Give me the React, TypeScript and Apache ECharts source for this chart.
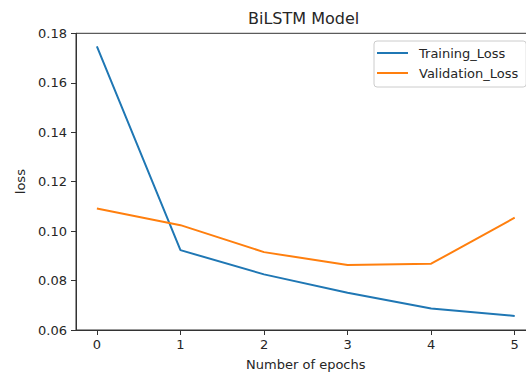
import React, { useEffect, useRef } from "react";
import * as echarts from "echarts";

const epochs = [0, 1, 2, 3, 4, 5];
const trainingLoss = [0.1747, 0.0923, 0.0825, 0.0751, 0.0687, 0.0657];
const validationLoss = [0.1091, 0.1024, 0.0915, 0.0863, 0.0868, 0.1054];
const xTicks = [0, 1, 2, 3, 4, 5];
const yTicks = [0.06, 0.08, 0.1, 0.12, 0.14, 0.16, 0.18];

const FONT = "DejaVu Sans";
const TXT = "#262626";
const AX = "#333333";

export default function App() {
  const ref = useRef<HTMLDivElement>(null);
  useEffect(() => {
    if (!ref.current) return;
    const chart = echarts.init(ref.current, undefined, { renderer: "svg" });
    chart.setOption({
      animation: false,
      backgroundColor: "#ffffff",
      textStyle: { fontFamily: FONT },
      title: {
        text: "BiLSTM Model",
        left: 248,
        top: 10,
        padding: 0,
        textStyle: { fontFamily: FONT, fontSize: 16, fontWeight: "normal", color: TXT },
      },
      legend: {
        orient: "vertical",
        left: 374,
        top: 41,
        padding: [5, 8, 7, 3],
        itemGap: 6,
        itemWidth: 31,
        itemHeight: 2,
        icon: "rect",
        backgroundColor: "rgba(255,255,255,0.8)",
        borderColor: "#cccccc",
        borderWidth: 1,
        borderRadius: 3,
        textStyle: { fontFamily: FONT, fontSize: 13, color: TXT, lineHeight: 14, padding: [0, 0, 0, 6] },
        data: ["Training_Loss", "Validation_Loss"],
      },
      grid: { left: 76, top: 33.3, width: 459.6, height: 297.4, show: true, borderColor: AX, borderWidth: 1, backgroundColor: "transparent" },
      xAxis: {
        type: "value",
        min: -0.25,
        max: 5.25,
        name: "Number of epochs",
        nameLocation: "middle",
        nameGap: 28,
        nameTextStyle: { fontFamily: FONT, fontSize: 13, color: TXT },
        axisLine: { show: true, onZero: false, lineStyle: { color: AX, width: 1 } },
        axisTick: { show: true, customValues: xTicks, length: 5, lineStyle: { color: AX, width: 1 } },
        axisLabel: { customValues: xTicks, margin: 8, fontFamily: FONT, fontSize: 13, color: TXT, formatter: (v: number) => String(v) },
        splitLine: { show: false },
      },
      yAxis: {
        type: "value",
        min: 0.06,
        max: 0.18,
        name: "loss",
        nameLocation: "middle",
        nameGap: 47,
        nameTextStyle: { fontFamily: FONT, fontSize: 13, color: TXT },
        axisLine: { show: true, onZero: false, lineStyle: { color: AX, width: 1 } },
        axisTick: { show: true, customValues: yTicks, length: 5, lineStyle: { color: AX, width: 1 } },
        axisLabel: { customValues: yTicks, margin: 9, fontFamily: FONT, fontSize: 13, color: TXT, formatter: (v: number) => v.toFixed(2) },
        splitLine: { show: false },
      },
      series: [
        {
          name: "Training_Loss",
          type: "line",
          data: epochs.map((e, i) => [e, trainingLoss[i]]),
          symbol: "none",
          lineStyle: { color: "#1f77b4", width: 2 },
          itemStyle: { color: "#1f77b4" },
        },
        {
          name: "Validation_Loss",
          type: "line",
          data: epochs.map((e, i) => [e, validationLoss[i]]),
          symbol: "none",
          lineStyle: { color: "#ff7f0e", width: 2 },
          itemStyle: { color: "#ff7f0e" },
        },
      ],
    });
    return () => chart.dispose();
  }, []);
  return (
    <div style={{ position: "absolute", left: 0, top: 0, width: 526, height: 376, overflow: "hidden" }}>
      <div ref={ref} style={{ width: 546, height: 376 }} />
    </div>
  );
}
